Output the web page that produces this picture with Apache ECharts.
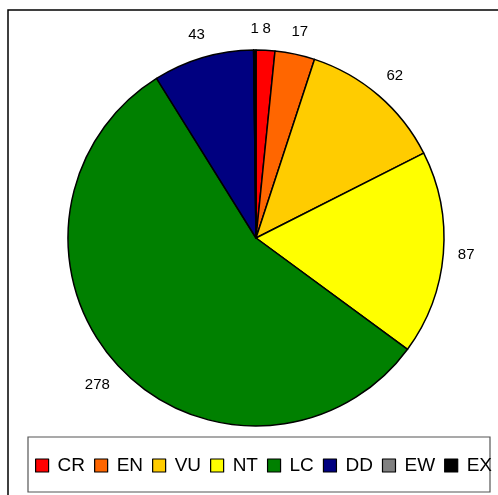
<!DOCTYPE html>
<html>
<head>
<meta charset="utf-8">
<script src="https://cdn.jsdelivr.net/npm/echarts@6/dist/echarts.min.js"></script>
<style>
  html, body { margin: 0; padding: 0; background: #fff; }
  #chart { width: 498px; height: 495px; }
</style>
</head>
<body>
<div id="chart"></div>
<script>
const categories = ["CR", "EN", "VU", "NT", "LC", "DD", "EW", "EX"];
const counts = [8, 17, 62, 87, 278, 43, 0, 1];
const colors = ["#ff0000", "#ff6600", "#ffcc00", "#ffff00", "#008000", "#000080", "#808080", "#000000"];

const cx = 256, cy = 238, radius = 188;
const total = counts.reduce((a, b) => a + b, 0);

// mid angle (radians, clockwise from 12 o'clock) of each slice
const midAngles = [];
let acc = 0;
counts.forEach((v) => {
  midAngles.push(((acc + v / 2) / total) * Math.PI * 2);
  acc += v;
});

const chart = echarts.init(document.getElementById("chart"));

chart.setOption({
  backgroundColor: "#fff",
  animation: false,
  textStyle: { fontFamily: "'Liberation Sans', Arial, sans-serif" },
  graphic: [
    {
      type: "rect",
      shape: { x: 8, y: 10, width: 520, height: 520 },
      style: { fill: "none", stroke: "#000", lineWidth: 1.5 },
      silent: true,
    },
    {
      type: "rect",
      shape: { x: 28, y: 437, width: 462, height: 55 },
      style: { fill: "#fff", stroke: "#555", lineWidth: 1.2 },
      silent: true,
      z: -1,
    },
  ],
  legend: {
    data: categories,
    left: 30,
    top: 451,
    icon: "rect",
    itemWidth: 13,
    itemHeight: 13,
    itemGap: 9,
    itemStyle: { borderColor: "#000", borderWidth: 1.2 },
    textStyle: { color: "#000", fontSize: 19, padding: [0, 0, 0, 4] },
    selectedMode: false,
    z: 5,
  },
  series: [
    {
      type: "pie",
      center: [cx, cy],
      radius: radius,
      startAngle: 90,
      clockwise: true,
      avoidLabelOverlap: false,
      itemStyle: { borderColor: "#000", borderWidth: 1.5 },
      label: {
        show: true,
        position: "outside",
        color: "#000",
        fontSize: 15,
        formatter: "{c}",
      },
      labelLine: { show: false },
      labelLayout: (params) => {
        const i = params.dataIndex;
        const a = midAngles[i];
        const dx = Math.sin(a), dy = -Math.cos(a);
        const hw = params.labelRect.width / 2, hh = params.labelRect.height / 2;
        const ext = Math.abs(dx) * hw + Math.abs(dy) * hh;
        const R = radius + 14 + ext;
        return {
          x: cx + dx * R,
          y: cy + dy * R,
          align: "center",
          verticalAlign: "middle",
        };
      },
      data: categories.map((name, i) => ({
        name: name,
        value: counts[i],
        itemStyle: { color: colors[i] },
        label: { show: counts[i] > 0 },
      })),
    },
  ],
});
</script>
</body>
</html>
